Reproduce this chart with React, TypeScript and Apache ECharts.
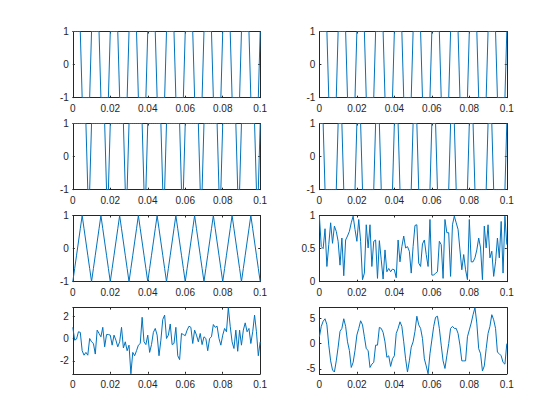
import React, { useEffect, useRef } from "react";
import * as echarts from "echarts";

// sampling interval of every trace (s)
const sampleStep = 0.001;

const square50 = [
  1, 1, 1, 1, 1, -1, -1, -1, -1, -1,
  1, 1, 1, 1, 1, -1, -1, -1, -1, -1,
  1, 1, 1, 1, 1, -1, -1, -1, -1, -1,
  1, 1, 1, 1, 1, -1, -1, -1, -1, -1,
  1, 1, 1, 1, 1, -1, -1, -1, -1, -1,
  1, 1, 1, 1, 1, -1, -1, -1, -1, -1,
  1, 1, 1, 1, 1, -1, -1, -1, -1, -1,
  1, 1, 1, 1, 1, -1, -1, -1, -1, -1,
  1, 1, 1, 1, 1, -1, -1, -1, -1, -1,
  1, 1, 1, 1, 1, -1, -1, -1, -1, -1,
  1,
];

const square50b = [
  1, 1, 1, 1, 1, -1, -1, -1, -1, -1,
  1, 1, 1, 1, 1, -1, -1, -1, -1, -1,
  1, 1, 1, 1, 1, -1, -1, -1, -1, -1,
  1, 1, 1, 1, 1, -1, -1, -1, -1, -1,
  1, 1, 1, 1, 1, -1, -1, -1, -1, -1,
  1, 1, 1, 1, 1, -1, -1, -1, -1, -1,
  1, 1, 1, 1, 1, -1, -1, -1, -1, -1,
  1, 1, 1, 1, 1, -1, -1, -1, -1, -1,
  1, 1, 1, 1, 1, -1, -1, -1, -1, -1,
  1, 1, 1, 1, 1, -1, -1, -1, -1, -1,
  1,
];

const square80 = [
  1, 1, 1, 1, 1, 1, 1, 1, -1, -1,
  1, 1, 1, 1, 1, 1, 1, 1, -1, -1,
  1, 1, 1, 1, 1, 1, 1, 1, -1, -1,
  1, 1, 1, 1, 1, 1, 1, 1, -1, -1,
  1, 1, 1, 1, 1, 1, 1, 1, -1, -1,
  1, 1, 1, 1, 1, 1, 1, 1, -1, -1,
  1, 1, 1, 1, 1, 1, 1, 1, -1, -1,
  1, 1, 1, 1, 1, 1, 1, 1, -1, -1,
  1, 1, 1, 1, 1, 1, 1, 1, -1, -1,
  1, 1, 1, 1, 1, 1, 1, 1, -1, -1,
  1,
];

const square30 = [
  1, 1, 1, -1, -1, -1, -1, -1, -1, -1,
  1, 1, 1, -1, -1, -1, -1, -1, -1, -1,
  1, 1, 1, -1, -1, -1, -1, -1, -1, -1,
  1, 1, 1, -1, -1, -1, -1, -1, -1, -1,
  1, 1, 1, -1, -1, -1, -1, -1, -1, -1,
  1, 1, 1, -1, -1, -1, -1, -1, -1, -1,
  1, 1, 1, -1, -1, -1, -1, -1, -1, -1,
  1, 1, 1, -1, -1, -1, -1, -1, -1, -1,
  1, 1, 1, -1, -1, -1, -1, -1, -1, -1,
  1, 1, 1, -1, -1, -1, -1, -1, -1, -1,
  1,
];

const triangle = [
  -1, -0.6, -0.2, 0.2, 0.6, 1, 0.6, 0.2, -0.2, -0.6,
  -1, -0.6, -0.2, 0.2, 0.6, 1, 0.6, 0.2, -0.2, -0.6,
  -1, -0.6, -0.2, 0.2, 0.6, 1, 0.6, 0.2, -0.2, -0.6,
  -1, -0.6, -0.2, 0.2, 0.6, 1, 0.6, 0.2, -0.2, -0.6,
  -1, -0.6, -0.2, 0.2, 0.6, 1, 0.6, 0.2, -0.2, -0.6,
  -1, -0.6, -0.2, 0.2, 0.6, 1, 0.6, 0.2, -0.2, -0.6,
  -1, -0.6, -0.2, 0.2, 0.6, 1, 0.6, 0.2, -0.2, -0.6,
  -1, -0.6, -0.2, 0.2, 0.6, 1, 0.6, 0.2, -0.2, -0.6,
  -1, -0.6, -0.2, 0.2, 0.6, 1, 0.6, 0.2, -0.2, -0.6,
  -1, -0.6, -0.2, 0.2, 0.6, 1, 0.6, 0.2, -0.2, -0.6,
  -1,
];

const uniformNoise = [
  0.99, 0.53, 0.5, 0.8, 0.23, 0.56, 0.89, 0.58, 0.84, 0.76,
  0.61, 0.25, 0.66, 0.09, 0.63, 0.69, 0.76, 0.89, 0.99, 0.79,
  0.61, 0.94, 0.61, 0.03, 0.13, 0.86, 0.51, 0.86, 0.23, 0.61,
  0.63, 0.05, 0.62, 0.33, 0.04, 0.48, 0.15, 0.2, 0.15, 0.19,
  0.18, 0.06, 0.63, 0.3, 0.53, 0.69, 0.51, 0.53, 0.46, 0.13,
  0.53, 0.85, 0.86, 0.28, 0.23, 0.57, 0.63, 0.41, 0.23, 0.94,
  0.1, 0.1, 0.13, 0.15, 0.61, 0.56, 0.05, 0.94, 0.74, 0.74,
  0.08, 0.86, 0.99, 0.89, 0.79, 0.48, 0.18, 0.41, 0.18, 0.03,
  0.94, 0.3, 0.3, 0.36, 0.48, 0.66, 0.51, 0.03, 0.84, 0.51,
  0.86, 0.36, 0.46, 0.08, 0.3, 0.66, 0.36, 0.91, 0.13, 0.99,
  0.56,
];

const gaussianNoise = [
  1.0, -0.15, -0.05, 0.6, 0.55, -1.1, -1.5, -1.25, -1.5, 0,
  -0.3, -0.45, -1.4, 0.75, 0.45, 0.15, 1.0, -0.75, 0.35, 0.35,
  0.3, -0.6, 0.3, -0.15, -0.75, -0.3, 1.0, -0.85, -0.3, -1.1,
  -0.6, -3.17, -1.25, -1.55, -1.1, -0.6, -0.45, 1.9, -0.3, -0.55,
  0.3, -1.25, -0.55, 0.55, 0.9, 0.3, -1.55, -0.15, 1.7, 2.1,
  0, 0.3, 1.3, -0.55, -0.45, 1.0, -1.55, -1.9, 0.45, 0.35,
  0.25, 0.75, 1.1, 1.0, -0.45, 0.75, 0.3, -0.3, 0.45, -0.55,
  0.15, 0, -1.1, 0, 0.15, 1.25, 1.0, 1.1, 0, -0.6,
  0.3, 0.9, 0.6, 2.77, 1.1, -0.3, -0.9, 0.75, -1.15, 0.75,
  -0.6, 0.75, 1.4, 0.6, 0.9, -0.45, 0.6, 2.1, 0.6, -1.55,
  -0.3,
];

const noisySinusoid = [
  1.35, 3.4, 4.4, 4.9, 3.7, -0.3, -3.4, -5.2, -5.6, -3.4,
  -0.7, 2.4, 3.0, 4.9, 3.4, 0.35, -1.35, -4.7, -3.7, -1.35,
  1.7, 3.0, 4.5, 3.7, 1.35, -1.0, -1.35, -4.7, -4.05, -3.7,
  -0.3, -0.3, 3.2, 3.0, 2.2, 0.35, -2.7, -2.4, -4.5, -3.0,
  -2.4, 2.0, 3.0, 4.3, 3.4, 0.35, -3.0, -5.6, -3.4, -0.7,
  0.35, 2.4, 5.4, 3.7, 3.0, 1.0, -3.0, -4.4, -5.95, -2.0,
  0.7, 3.4, 5.2, 5.4, 3.0, -0.3, -3.4, -4.9, -2.4, 0,
  3.0, 3.4, 3.0, 3.0, 2.0, -0.3, -3.4, -3.4, -3.4, 1.35,
  2.7, 4.05, 5.7, 7.1, 4.05, -1.0, -2.0, -5.4, -4.4, -1.0,
  2.0, 3.4, 5.7, 4.7, 3.0, -1.7, -2.0, -2.4, -3.7, -4.05,
  0,
];

const panelSeries = [square50, square50b, square80, square30, triangle, uniformNoise, gaussianNoise, noisySinusoid];

const xTickValues = [0, 0.02, 0.04, 0.06, 0.08, 0.1];

const colLeft = [72.8, 319.4];
const rowTop = [31.5, 123.5, 215.5, 307.6];
const panelW = 187.4;
const panelH = 66.2;

const textColor = "#262626";
const lineColor = "#0072BD";
const fontFamily = "'Liberation Sans', Arial, Helvetica, sans-serif";

type YSpec = { min: any; max: any; interval?: number; splitNumber?: number; edgeLabels: boolean };
const ySpecs: YSpec[] = [
  { min: -1, max: 1, interval: 1, edgeLabels: true },
  { min: -1, max: 1, interval: 1, edgeLabels: true },
  { min: -1, max: 1, interval: 1, edgeLabels: true },
  { min: -1, max: 1, interval: 1, edgeLabels: true },
  { min: -1, max: 1, interval: 1, edgeLabels: true },
  { min: 0, max: 1, interval: 0.5, edgeLabels: true },
  { min: "dataMin", max: "dataMax", splitNumber: 3, edgeLabels: false },
  { min: "dataMin", max: "dataMax", splitNumber: 3, edgeLabels: false },
];

export default function App() {
  const ref = useRef<HTMLDivElement>(null);
  useEffect(() => {
    if (!ref.current) return;
    const chart = echarts.init(ref.current, undefined, { renderer: "svg" });
    const grids: any[] = [];
    const xAxes: any[] = [];
    const yAxes: any[] = [];
    const series: any[] = [];
    const axisLine = { show: true, onZero: false, lineStyle: { color: textColor, width: 1 } };
    const tick = { show: true, inside: true, length: 2, lineStyle: { color: textColor, width: 1 } };
    const label = { color: textColor, fontSize: 10, fontFamily };
    panelSeries.forEach((vals, i) => {
      const r = Math.floor(i / 2);
      const c = i % 2;
      grids.push({ left: colLeft[c], top: rowTop[r], width: panelW, height: panelH, containLabel: false });
      const ys = ySpecs[i];
      // bottom x axis
      xAxes.push({
        type: "value", gridIndex: i, position: "bottom", min: 0, max: 0.1, interval: 0.02,
        axisLine, axisTick: tick, splitLine: { show: false },
        axisLabel: { ...label, margin: 6, formatter: (v: number) => String(+v.toFixed(2)) },
      });
      // top x axis (box)
      xAxes.push({
        type: "value", gridIndex: i, position: "top", min: 0, max: 0.1, interval: 0.02,
        axisLine, axisTick: tick, splitLine: { show: false }, axisLabel: { show: false },
      });
      const yBase: any = { type: "value", gridIndex: i, min: ys.min, max: ys.max, splitLine: { show: false }, axisLine, axisTick: tick };
      if (ys.interval !== undefined) yBase.interval = ys.interval;
      if (ys.splitNumber !== undefined) yBase.splitNumber = ys.splitNumber;
      yAxes.push({
        ...yBase, position: "left",
        axisLabel: { ...label, margin: 4, showMinLabel: ys.edgeLabels, showMaxLabel: ys.edgeLabels, formatter: (v: number) => String(+v.toFixed(2)) },
      });
      yAxes.push({ ...yBase, position: "right", axisLabel: { show: false } });
      series.push({
        type: "line",
        xAxisIndex: i * 2,
        yAxisIndex: i * 2,
        data: vals.map((v, k) => [k * sampleStep, v]),
        showSymbol: false,
        symbol: "none",
        lineStyle: { color: lineColor, width: 1 },
        clip: true,
      });
    });
    chart.setOption({
      animation: false,
      backgroundColor: "#ffffff",
      grid: grids,
      xAxis: xAxes,
      yAxis: yAxes,
      series,
    });
    return () => chart.dispose();
  }, []);
  return (
    <div
      ref={ref}
      style={{ position: "fixed", left: 0, top: 0, width: 560, height: 420, background: "#fff" }}
    />
  );
}
